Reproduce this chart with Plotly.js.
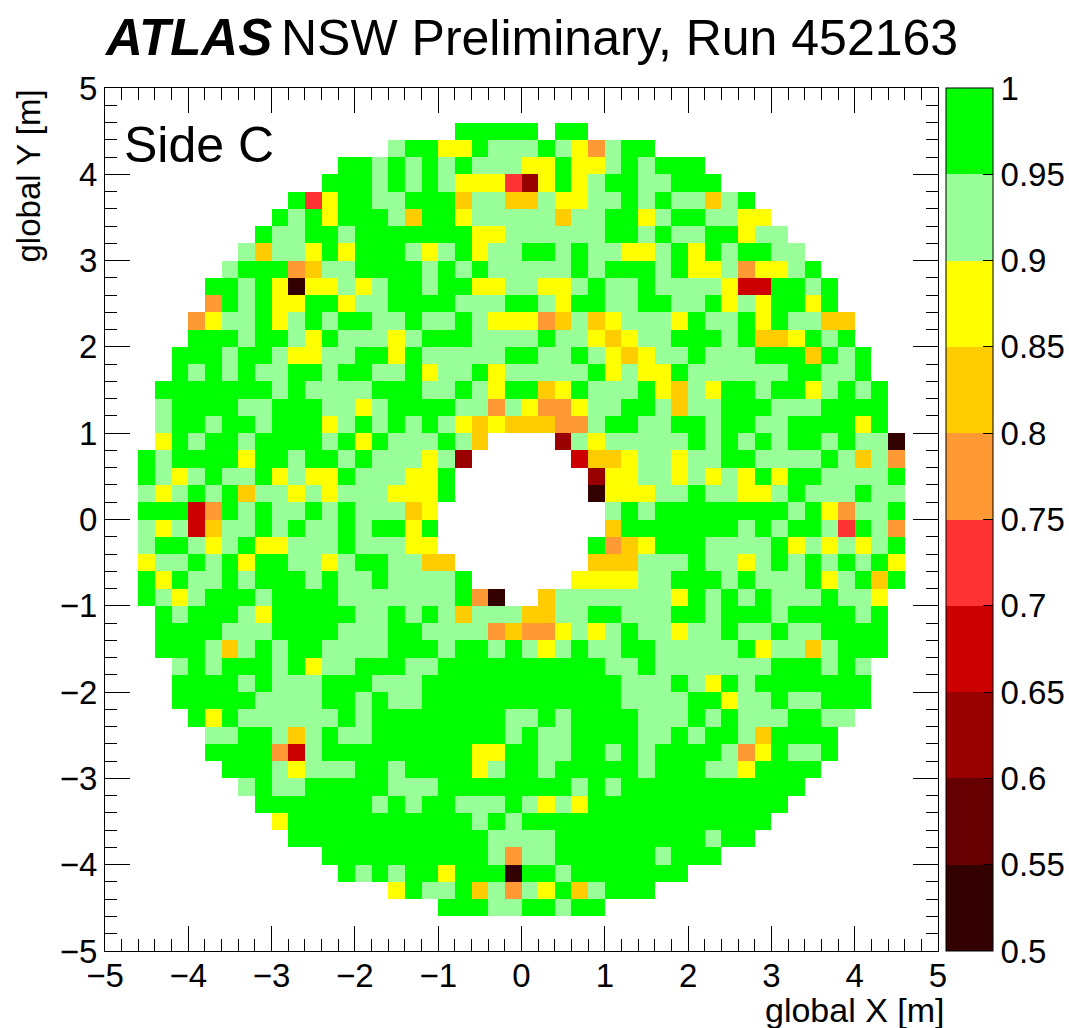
<!DOCTYPE html>
<html>
<head>
<meta charset="utf-8">
<script src="https://cdn.plot.ly/plotly-3.0.1.min.js"></script>
<style>html,body{margin:0;padding:0;background:#fff}#c{width:1069px;height:1028px}</style>
</head>
<body>
<div id="c"></div>
<script>
// Efficiency band per bin, columns left to right (x = -5 .. 5, 0.2 m bins), rows top to bottom (y = 5 .. -5).
// '.' = no data, 1 = 0.95-1, 2 = 0.9-0.95, 3 = 0.85-0.9, 4 = 0.8-0.85, 5 = 0.75-0.8,
// 6 = 0.7-0.75, 7 = 0.65-0.7, 8 = 0.6-0.65, 9 = 0.55-0.6, a = 0.5-0.55
const bandRows = [
"................ ................ ................",
"................ ....11111.11.... ................",
"................ 2113312221235211 ................",
".............112 1212122233133212 111.............",
"............1112 1212333683132112 2111............",
"..........163112 2111422442332212 122421..........",
".........1213111 2411322222422113 2112233.........",
"........12211211 1111133222222112 12211322........",
".......242231311 1232132211212233 213121122.......",
"......2111542211 1121212222212111 2133253321......",
".....11213a33232 1121133223321221 22223771121.....",
".....51213311322 1111222112311221 12213231131.....",
"....532213212112 2122123335424322 231221312244....",
"....111211231222 3211122221223432 211121443121....",
"...1112112332211 3122222112212343 2212221114121...",
"...1212122112112 2132213222221323 3122222211221...",
"..11111112122221 1122123114312221 34231121132121..",
"..21111221112232 1111225235532211 24221112221111..",
"..21121121113212 1212343444552112 21121122111131..",
"..31211211112131 222124....823222 22121212112122a.",
".121111311211212 22328......74432 232211222212425.",
".123212213233122 2331........8332 232323131122221.",
".232121422323222 3331........a333 221223321222122.",
".111751212212122 243..........212 111111112135221.",
".232742212122121 131..........411 111112121126125.",
".211232133222122 233.........1543 111222213232321.",
".322121311223211 2244........4442 221223212121213.",
".131221211121221 22221......33332 211121222132141.",
".123211121111222 222215a..4222222 23121212221223..",
"..12111231111122 1212422244221122 21121112111121..",
"..11112221111222 1122225455323212 23221221221111..",
"..11124212112222 1112112123212211 22222132242111..",
"...2121112132211 1221111111111221 2222222111212...",
"...1111212221112 2211111111111122 2123121111111...",
"...1111122221121 2211111111111122 2211322122111...",
"....131222222121 1111111221211112 221212221122....",
".....22112421221 1111111212211112 21211241111.....",
".....11115721111 1111133112211212 11112531221.....",
"......1112322211 2111132112111112 1112231111......",
".......212211111 2221111111121211 111111111.......",
"........11111112 1211222123231111 11111111........",
".........3111111 1111121211111111 1111111.........",
"..........111111 1111112222111111 111211..........",
"............1111 1111112522111111 2111............",
".............121 2113111a11211111 11..............",
"................ 3122142523142111 ................",
"................ ...1112211211... ................"
];
const bandValues = {"1":0.975,"2":0.925,"3":0.875,"4":0.825,"5":0.775,"6":0.725,"7":0.675,"8":0.625,"9":0.575,"a":0.525};
const bandColors = ["#330000","#660000","#990000","#cc0000","#ff3333","#ff9933","#ffcc00","#ffff00","#99ff99","#00ff00"];
const cbTicks = [0.5,0.55,0.6,0.65,0.7,0.75,0.8,0.85,0.9,0.95,1];
const cbLabels = ["0.5","0.55","0.6","0.65","0.7","0.75","0.8","0.85","0.9","0.95","1"];
const FONT = '"Liberation Sans", Arial, sans-serif';
const TICK = 33;

const nBins = 50, binW = 0.2;
const xc = [], yc = [];
for (let i = 0; i < nBins; i++) { xc.push(-5 + binW*(i+0.5)); yc.push(5 - binW*(i+0.5)); }
const blank = ".".repeat(nBins);
const zRows = [blank, ...bandRows.map(r => "." + r.replace(/ /g,"") + "."), blank];
while (zRows.length < nBins) zRows.push(blank);
const z = zRows.map(r => r.split("").map(c => c === "." ? null : bandValues[c]));

const colorscale = [];
bandColors.forEach((c,i) => { colorscale.push([i/10,c]); colorscale.push([(i+1)/10,c]); });

const axis = {
  range:[-5,5], tick0:-5, dtick:1, ticks:"inside", ticklen:25, tickwidth:1, tickcolor:"#000",
  showline:true, linecolor:"#000", linewidth:1, mirror:"ticks", showgrid:false, zeroline:false,
  tickfont:{family:FONT,size:TICK,color:"#000"},
  minor:{dtick:0.2, tick0:-5, ticks:"inside", ticklen:12, tickwidth:1, tickcolor:"#000", showgrid:false}
};

Plotly.newPlot("c",[{
  type:"heatmap", x:xc, y:yc, z:z, zmin:0.5, zmax:1, zsmooth:false, colorscale:colorscale,
  hoverongaps:false, xgap:0, ygap:0,
  colorbar:{
    x:946/1069, xanchor:"left", xref:"container", y:0, yanchor:"bottom", yref:"paper",
    len:1, lenmode:"fraction", thickness:47, thicknessmode:"pixels",
    tickmode:"array", tickvals:cbTicks, ticktext:cbLabels, ticks:"inside", ticklen:10, tickcolor:"#000",
    tickfont:{family:FONT,size:TICK,color:"#000"}, outlinewidth:1, outlinecolor:"#000",
    xpad:0, ypad:0, borderwidth:0
  }
}],{
  width:1069, height:1028, paper_bgcolor:"#fff", plot_bgcolor:"#fff",
  margin:{l:105,r:131,t:88,b:77,pad:0},
  xaxis:Object.assign({},axis,{ticklabelstandoff:-5}),
  yaxis:Object.assign({},axis,{}),
  showlegend:false,
  annotations:[
    {xref:"paper",yref:"paper",x:(122-105)/833,y:(951-145)/863,xanchor:"left",yanchor:"middle",showarrow:false,text:"Side C",font:{family:FONT,size:50,color:"#000"}},
    {xref:"paper",yref:"paper",x:(947-105)/833,y:-(1010-951)/863,xanchor:"right",yanchor:"middle",showarrow:false,text:"global X [m]",font:{family:FONT,size:34,color:"#000"}},
    {xref:"paper",yref:"paper",x:(28-105)/833,y:1,xanchor:"center",yanchor:"top",textangle:-90,showarrow:false,text:"global Y [m]",font:{family:FONT,size:33,color:"#000"}},
    {xref:"paper",yref:"paper",x:(102-105)/833,y:(951-38)/863,xanchor:"left",yanchor:"middle",showarrow:false,
     text:"<b><i>ATLAS</i></b>",font:{family:FONT,size:51,color:"#000"}},
    {xref:"paper",yref:"paper",x:(279-105)/833,y:(951-38)/863,xanchor:"left",yanchor:"middle",showarrow:false,
     text:"NSW Preliminary, Run 452163",font:{family:FONT,size:50,color:"#000"}}
  ]
},{displayModeBar:false,staticPlot:true});
</script>
</body>
</html>
